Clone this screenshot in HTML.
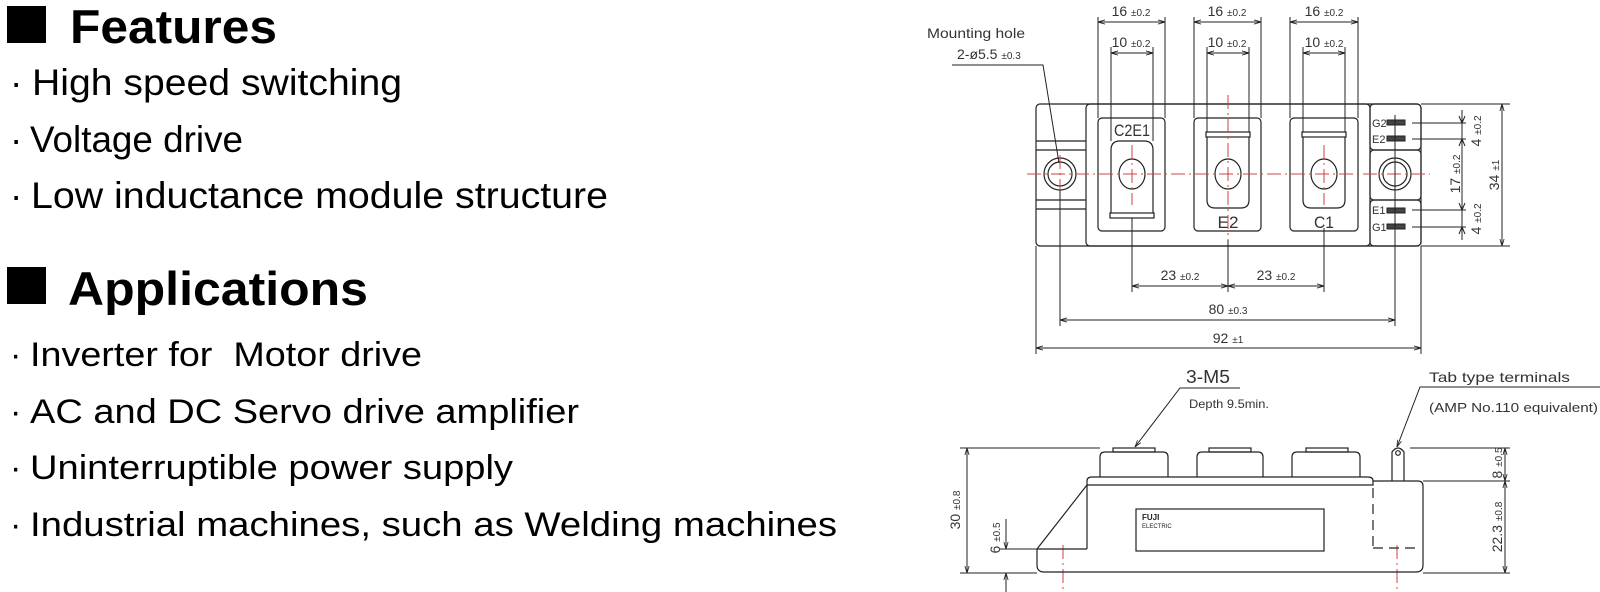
<!DOCTYPE html>
<html><head><meta charset="utf-8"><style>
html,body{margin:0;padding:0;background:#fff;}
svg{display:block;}
.t{font-family:"Liberation Sans",sans-serif;fill:#000;}
.c{font-family:"Liberation Sans",sans-serif;fill:#333;}
</style></head><body>
<svg width="1600" height="592" viewBox="0 0 1600 592" xmlns="http://www.w3.org/2000/svg">
<defs>
<marker id="a" viewBox="0 0 10 10" refX="10" refY="5" markerWidth="7" markerHeight="7" orient="auto-start-reverse" markerUnits="userSpaceOnUse"><path d="M0,2 L10,5 L0,8" fill="none" stroke="#222" stroke-width="1.2"/></marker>
</defs>
<rect x="7" y="6" width="39" height="37" fill="#000"/>
<text class="t" x="70" y="43" font-size="47" font-weight="bold" textLength="207" lengthAdjust="spacingAndGlyphs">Features</text>
<g class="t" font-size="37">
<text x="10" y="95">·</text><text x="32" y="95" textLength="370" lengthAdjust="spacingAndGlyphs">High speed switching</text>
<text x="10" y="152">·</text><text x="30" y="152" textLength="213" lengthAdjust="spacingAndGlyphs">Voltage drive</text>
<text x="10" y="208">·</text><text x="31" y="208" textLength="577" lengthAdjust="spacingAndGlyphs">Low inductance module structure</text>
</g>
<rect x="7" y="267" width="39" height="37" fill="#000"/>
<text class="t" x="68" y="305" font-size="47" font-weight="bold" textLength="300" lengthAdjust="spacingAndGlyphs">Applications</text>
<g class="t" font-size="34">
<text x="10" y="366">·</text><text x="30" y="366" textLength="392" lengthAdjust="spacingAndGlyphs" xml:space="preserve">Inverter for  Motor drive</text>
<text x="10" y="423">·</text><text x="30" y="423" textLength="549" lengthAdjust="spacingAndGlyphs">AC and DC Servo drive amplifier</text>
<text x="10" y="479">·</text><text x="30" y="479" textLength="483" lengthAdjust="spacingAndGlyphs">Uninterruptible power supply</text>
<text x="10" y="536">·</text><text x="30" y="536" textLength="807" lengthAdjust="spacingAndGlyphs">Industrial machines, such as Welding machines</text>
</g>

<g fill="none" stroke="#222" stroke-width="1.2">
<rect x="1036" y="104" width="385" height="142" rx="4"/>
<rect x="1086" y="104" width="284" height="142" rx="4"/>
<line x1="1036" y1="141" x2="1086" y2="141"/><line x1="1036" y1="150" x2="1086" y2="150"/>
<line x1="1036" y1="200" x2="1086" y2="200"/><line x1="1036" y1="209" x2="1086" y2="209"/>
<rect x="1370" y="104" width="51" height="46" rx="4"/>
<rect x="1370" y="150" width="51" height="50" rx="4"/>
<rect x="1370" y="200" width="51" height="46" rx="4"/>
<circle cx="1060" cy="174" r="16"/><circle cx="1060" cy="174" r="12"/>
<circle cx="1395" cy="174" r="16"/><circle cx="1395" cy="174" r="12"/>
<rect x="1098" y="118" width="67" height="113" rx="4"/>
<rect x="1194" y="118" width="67" height="113" rx="4"/>
<rect x="1290" y="118" width="68" height="113" rx="4"/>
<path d="M1111,213 L1111,150 Q1111,141 1120,141 L1144,141 Q1153,141 1153,150 L1153,213"/>
<rect x="1110" y="213" width="44" height="5"/>
<rect x="1206" y="132" width="44" height="5"/>
<path d="M1207,137 L1207,200 Q1207,208 1215,208 L1241,208 Q1249,208 1249,200 L1249,137"/>
<rect x="1302" y="132" width="44" height="5"/>
<path d="M1303,137 L1303,200 Q1303,208 1311,208 L1337,208 Q1345,208 1345,200 L1345,137"/>
<ellipse cx="1132" cy="174" rx="13" ry="15"/>
<ellipse cx="1228" cy="174" rx="13" ry="15"/>
<ellipse cx="1324" cy="174" rx="13" ry="15"/>
</g>
<g fill="#444" stroke="#222" stroke-width="1">
<rect x="1387" y="120" width="18" height="5"/><rect x="1387" y="136" width="18" height="5"/>
<rect x="1387" y="208" width="18" height="5"/><rect x="1387" y="224" width="18" height="5"/>
</g>
<g class="c" font-size="11">
<text x="1372" y="127">G2</text><text x="1372" y="143">E2</text>
<text x="1372" y="214">E1</text><text x="1372" y="231">G1</text>
</g>
<g class="c" font-size="17">
<text x="1132" y="136" text-anchor="middle" textLength="36" lengthAdjust="spacingAndGlyphs">C2E1</text>
<text x="1228" y="228" text-anchor="middle" textLength="21" lengthAdjust="spacingAndGlyphs">E2</text>
<text x="1324" y="228" text-anchor="middle" textLength="20" lengthAdjust="spacingAndGlyphs">C1</text>
</g>
<g stroke="#d04040" stroke-width="1" fill="none" stroke-dasharray="14,4,2,4">
<line x1="1027" y1="174" x2="1430" y2="174"/>
<line x1="1228" y1="95" x2="1228" y2="240"/>
<line x1="1132" y1="145" x2="1132" y2="205"/>
<line x1="1324" y1="145" x2="1324" y2="205"/>
<line x1="1060" y1="155" x2="1060" y2="193"/>
<line x1="1395" y1="155" x2="1395" y2="193"/>
<line x1="1063" y1="545" x2="1063" y2="592"/>
<line x1="1397" y1="545" x2="1397" y2="592"/>
</g>
<g stroke="#222" stroke-width="1" fill="none">
<line x1="1098" y1="17" x2="1098" y2="118"/><line x1="1165" y1="17" x2="1165" y2="118"/>
<line x1="1194" y1="17" x2="1194" y2="118"/><line x1="1261" y1="17" x2="1261" y2="118"/>
<line x1="1290" y1="17" x2="1290" y2="118"/><line x1="1358" y1="17" x2="1358" y2="118"/>
<line x1="1111" y1="47" x2="1111" y2="141"/><line x1="1153" y1="47" x2="1153" y2="141"/>
<line x1="1207" y1="47" x2="1207" y2="132"/><line x1="1249" y1="47" x2="1249" y2="132"/>
<line x1="1303" y1="47" x2="1303" y2="132"/><line x1="1345" y1="47" x2="1345" y2="132"/>
<g marker-start="url(#a)" marker-end="url(#a)">
<line x1="1098" y1="22" x2="1165" y2="22"/><line x1="1194" y1="22" x2="1261" y2="22"/><line x1="1290" y1="22" x2="1358" y2="22"/>
<line x1="1111" y1="53" x2="1153" y2="53"/><line x1="1207" y1="53" x2="1249" y2="53"/><line x1="1303" y1="53" x2="1345" y2="53"/>
<line x1="1132" y1="286" x2="1228" y2="286"/><line x1="1228" y1="286" x2="1324" y2="286"/>
<line x1="1060" y1="320" x2="1395" y2="320"/>
<line x1="1036" y1="348" x2="1421" y2="348"/>
<line x1="1502" y1="104" x2="1502" y2="246"/>
</g>
<line x1="1132" y1="218" x2="1132" y2="292"/><line x1="1228" y1="240" x2="1228" y2="292"/><line x1="1324" y1="228" x2="1324" y2="292"/>
<line x1="1060" y1="190" x2="1060" y2="326"/><line x1="1395" y1="115" x2="1395" y2="326"/>
<line x1="1036" y1="246" x2="1036" y2="354"/><line x1="1421" y1="246" x2="1421" y2="354"/>
<line x1="1421" y1="104" x2="1510" y2="104"/><line x1="1421" y1="246" x2="1510" y2="246"/>
<line x1="1412" y1="123" x2="1466" y2="123"/><line x1="1412" y1="139" x2="1466" y2="139"/>
<line x1="1412" y1="210" x2="1466" y2="210"/><line x1="1412" y1="227" x2="1466" y2="227"/>
<line x1="1462" y1="110" x2="1462" y2="240"/>
<path d="M1462,123 l-3,-7 M1462,123 l3,-7 M1462,139 l-3,7 M1462,139 l3,7 M1462,210 l-3,-7 M1462,210 l3,-7 M1462,227 l-3,7 M1462,227 l3,7"/>
<polyline points="952,65 1043,65 1059,163"/>
</g>
<g class="c" font-size="14">
<text x="1131" y="16" text-anchor="middle">16 <tspan font-size="10">±0.2</tspan></text>
<text x="1227" y="16" text-anchor="middle">16 <tspan font-size="10">±0.2</tspan></text>
<text x="1324" y="16" text-anchor="middle">16 <tspan font-size="10">±0.2</tspan></text>
<text x="1131" y="47" text-anchor="middle">10 <tspan font-size="10">±0.2</tspan></text>
<text x="1227" y="47" text-anchor="middle">10 <tspan font-size="10">±0.2</tspan></text>
<text x="1324" y="47" text-anchor="middle">10 <tspan font-size="10">±0.2</tspan></text>
<text x="1180" y="280" text-anchor="middle">23 <tspan font-size="10">±0.2</tspan></text>
<text x="1276" y="280" text-anchor="middle">23 <tspan font-size="10">±0.2</tspan></text>
<text x="1228" y="314" text-anchor="middle">80 <tspan font-size="10">±0.3</tspan></text>
<text x="1228" y="343" text-anchor="middle">92 <tspan font-size="10">±1</tspan></text>
<text transform="translate(1481,131) rotate(-90)" text-anchor="middle">4 <tspan font-size="10">±0.2</tspan></text>
<text transform="translate(1481,219) rotate(-90)" text-anchor="middle">4 <tspan font-size="10">±0.2</tspan></text>
<text transform="translate(1460,174) rotate(-90)" text-anchor="middle">17 <tspan font-size="10">±0.2</tspan></text>
<text transform="translate(1499,175) rotate(-90)" text-anchor="middle">34 <tspan font-size="10">±1</tspan></text>
<text x="927" y="38" textLength="98" lengthAdjust="spacingAndGlyphs">Mounting hole</text>
<text x="957" y="59">2-ø5.5 <tspan font-size="10">±0.3</tspan></text>
</g>

<g fill="none" stroke="#222" stroke-width="1.2">
<path d="M1037,549 L1037,565 Q1037,572 1044,572 L1416,572 Q1423,572 1423,565 L1423,549"/>
<line x1="1037" y1="549" x2="1087" y2="549"/>
<line x1="1037" y1="549" x2="1087" y2="485"/>
<line x1="1087" y1="485" x2="1087" y2="549"/>
<path d="M1087,485 L1087,481 Q1087,477 1092,477 L1368,477 Q1373,477 1373,481 L1373,485 Z"/>
<path d="M1373,481 L1418,481 Q1423,481 1423,486 L1423,549"/>
<path d="M1100,477 L1100,457 Q1100,452 1105,452 L1163,452 Q1168,452 1168,457 L1168,477"/>
<path d="M1197,477 L1197,457 Q1197,452 1202,452 L1258,452 Q1263,452 1263,457 L1263,477"/>
<path d="M1292,477 L1292,457 Q1292,452 1297,452 L1355,452 Q1360,452 1360,457 L1360,477"/>
<rect x="1113" y="448" width="42" height="4"/><rect x="1209" y="448" width="42" height="4"/><rect x="1306" y="448" width="42" height="4"/>
<path d="M1392,481 L1392,452 Q1398,444 1404,452 L1404,481"/>
<circle cx="1398" cy="453" r="2.3"/>
<rect x="1136" y="509" width="188" height="42"/>
<line x1="1373" y1="488" x2="1373" y2="548" stroke-dasharray="10,6"/>
<line x1="1373" y1="548" x2="1415" y2="548" stroke-dasharray="10,6"/>
</g>
<text x="1142" y="520" font-family="Liberation Sans,sans-serif" font-size="8" font-weight="bold" fill="#222">FUJI</text>
<text x="1142" y="528" font-family="Liberation Sans,sans-serif" font-size="6" fill="#222">ELECTRIC</text>
<g stroke="#222" stroke-width="1" fill="none">
<polyline points="1240,388 1180,388 1135,447" marker-end="url(#a)"/>
<polyline points="1600,387 1420,387 1397,447" marker-end="url(#a)"/>
<line x1="960" y1="448" x2="1100" y2="448"/><line x1="960" y1="573" x2="1037" y2="573"/>
<line x1="967" y1="448" x2="967" y2="573" marker-start="url(#a)" marker-end="url(#a)"/>
<line x1="1000" y1="549" x2="1037" y2="549"/>
<line x1="1006" y1="519" x2="1006" y2="549" marker-end="url(#a)"/>
<line x1="1006" y1="592" x2="1006" y2="573" marker-end="url(#a)"/>
<line x1="1410" y1="448" x2="1510" y2="448"/><line x1="1423" y1="481" x2="1510" y2="481"/><line x1="1423" y1="573" x2="1510" y2="573"/>
<line x1="1505" y1="448" x2="1505" y2="481" marker-start="url(#a)" marker-end="url(#a)"/>
<line x1="1505" y1="481" x2="1505" y2="573" marker-start="url(#a)" marker-end="url(#a)"/>
</g>
<g class="c">
<text x="1186" y="383" font-size="18" textLength="44" lengthAdjust="spacingAndGlyphs">3-M5</text>
<text x="1189" y="408" font-size="12" textLength="80" lengthAdjust="spacingAndGlyphs">Depth 9.5min.</text>
<text x="1429" y="382" font-size="14" textLength="141" lengthAdjust="spacingAndGlyphs">Tab type terminals</text>
<text x="1429" y="412" font-size="13" textLength="169" lengthAdjust="spacingAndGlyphs">(AMP No.110 equivalent)</text>
<g font-size="14">
<text transform="translate(960,510) rotate(-90)" text-anchor="middle">30 <tspan font-size="10">±0.8</tspan></text>
<text transform="translate(1000,538) rotate(-90)" text-anchor="middle">6 <tspan font-size="10">±0.5</tspan></text>
<text transform="translate(1502,463) rotate(-90)" text-anchor="middle">8 <tspan font-size="10">±0.5</tspan></text>
<text transform="translate(1502,527) rotate(-90)" text-anchor="middle">22.3 <tspan font-size="10">±0.8</tspan></text>
</g>
</g>
</svg>
</body></html>
